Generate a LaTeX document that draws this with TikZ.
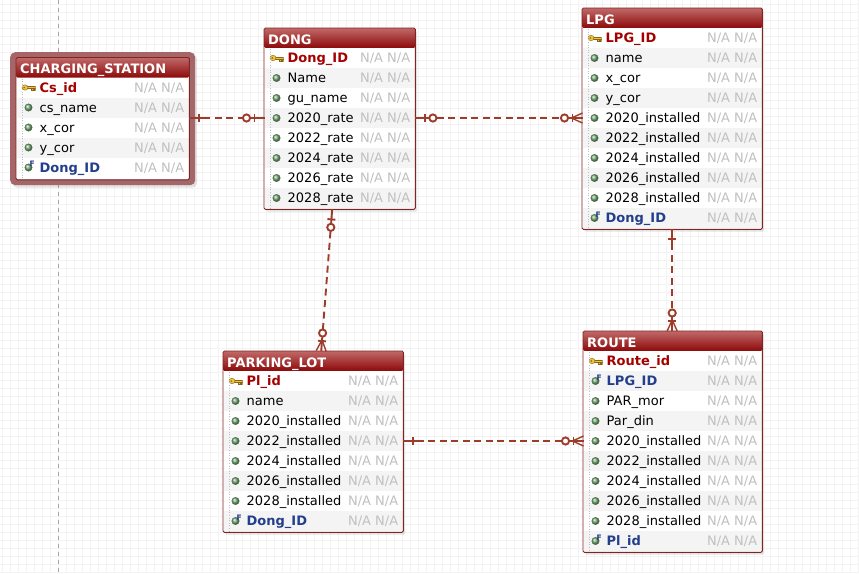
\documentclass[tikz,border=0pt]{standalone}
\usepackage{fontspec}
\setmainfont{DejaVu Sans}
\usetikzlibrary{calc,shadows}

\definecolor{relcol}{RGB}{158,60,44}
\definecolor{tableline}{RGB}{128,36,36}
\definecolor{headtop}{RGB}{192,104,104}
\definecolor{headbot}{RGB}{140,8,8}
\definecolor{rowgray}{RGB}{244,244,244}
\definecolor{pkred}{RGB}{165,0,0}
\definecolor{fkblue}{RGB}{34,62,140}
\definecolor{nagray}{RGB}{192,192,192}
\definecolor{dotgreen}{RGB}{120,175,120}
\definecolor{keygold}{RGB}{236,196,64}
\definecolor{keyedge}{RGB}{140,100,20}
\definecolor{gridcol}{RGB}{243,243,243}
\definecolor{selframe}{RGB}{166,102,104}

\begin{document}
\begin{tikzpicture}[x=1pt,y=-1pt,
    % Define the styles for the tables
    tablebox/.style={anchor=north west, inner sep=0pt, fill=white, rounded corners=1.5pt,
        drop shadow={shadow xshift=2pt, shadow yshift=-2.5pt, opacity=0.22}},
    selbox/.style={tablebox, fill=selframe, rounded corners=5pt},
    tableframe/.style={draw=tableline, line width=0.9pt, rounded corners=1.5pt},
    tablehead/.style={anchor=north west, inner sep=0pt, minimum height=20pt, rounded corners=1.5pt,
        top color=headtop, middle color=headbot, bottom color=headbot},
    headtext/.style={anchor=base west, inner sep=0pt, text=white, font=\bfseries\fontsize{13}{13}\selectfont},
    rowband/.style={anchor=west, inner sep=0pt, minimum height=20pt},
    rowdots/.style={draw=black!25, dotted, line width=0.6pt},
    gridline/.style={draw=gridcol, line width=0.7pt},
    % Define the style for each kind of field
    col-icon/.style={circle, inner sep=0pt, minimum size=7.5pt, ball color=dotgreen, draw=dotgreen!60!black, line width=0.3pt},
    fk-icon/.style={col-icon, label={[inner sep=0pt, text=fkblue, font=\bfseries\fontsize{7.5}{7.5}\selectfont, xshift=-1.8pt, yshift=-2.2pt]north east:F}},
    pk-icon/.style={inner sep=0pt, minimum width=14pt, minimum height=8pt, path picture={
        \coordinate (kc) at (path picture bounding box.center);
        \filldraw[draw=keyedge, fill=keygold, line width=0.4pt] ([xshift=-1pt,yshift=-1.1pt]kc) rectangle ([xshift=6.5pt,yshift=1.1pt]kc);
        \filldraw[draw=keyedge, fill=keygold, line width=0.4pt] ([xshift=3pt,yshift=-1.1pt]kc) rectangle ([xshift=4.3pt,yshift=-3pt]kc);
        \filldraw[draw=keyedge, fill=keygold, line width=0.4pt] ([xshift=5.2pt,yshift=-1.1pt]kc) rectangle ([xshift=6.5pt,yshift=-3pt]kc);
        \filldraw[draw=keyedge, fill=keygold, line width=0.4pt] ([xshift=-3.5pt]kc) ellipse (3pt and 2.7pt);
        \fill[keyedge] ([xshift=-4.3pt]kc) circle (0.8pt);}},
    col-text/.style={anchor=base west, inner sep=0pt, font=\fontsize{13}{13}\selectfont},
    pk-text/.style={col-text, text=pkred, font=\bfseries\fontsize{13}{13}\selectfont},
    fk-text/.style={col-text, text=fkblue, font=\bfseries\fontsize{13}{13}\selectfont},
    na-text/.style={anchor=base east, inner sep=0pt, text=nagray, font=\fontsize{13}{13}\selectfont},
    % Define the style for the connecting lines
    relsolid/.style={draw=relcol, line width=1.9pt},
    reldash/.style={relsolid, dash pattern=on 7pt off 4.5pt}
]

% One table: name, top left corner, width, height, title, fields
\def\ertable#1#2#3#4#5#6#7{%
    \node[tablebox, minimum width=#4, minimum height=#5] (#1) at (#2,#3) {};
    \node[tablehead, minimum width=#4] (#1-head) at (#1.north west) {};
    \node[headtext] (#1-title) at ([xshift=4pt, yshift=-16pt]#1.north west) {#6};
    \foreach \i/\fname/\kind in {#7}{
        \ifodd\i \def\rf{white}\else\def\rf{rowgray}\fi
        \node[rowband, fill=\rf, minimum width=#4-1] (#1-\i) at ([xshift=0.5pt, yshift=-20*\i-10]#1.north west) {};
        \node[\kind-icon] at ([xshift=12pt]#1-\i.west) {};
        \node[\kind-text] at ([xshift=23pt, yshift=-4.6pt]#1-\i.west) {\fname};
        \node[na-text] at ([xshift=-4.5pt, yshift=-4.6pt]#1-\i.east) {N/A N/A};
    }
    \draw[rowdots] ([xshift=6pt, yshift=-21pt]#1.north west) -- ([xshift=6pt, yshift=1pt]#1.south west);
    \draw[tableframe] (#1.north west) rectangle (#1.south east);
}

% Line ends: #1 is the table side, #2 the far side
\def\relone#1#2{%
    \draw[relsolid] (#1) -- ($(#1)!14pt!(#2)$);
    \draw[relsolid] ($(#1)!10pt!(#2)!4pt!90:(#2)$) -- ($(#1)!10pt!(#2)!4pt!-90:(#2)$);
}
\def\relzeroone#1#2{%
    \draw[relsolid] (#1) -- ($(#1)!22pt!(#2)$);
    \draw[relsolid] ($(#1)!10pt!(#2)!4pt!90:(#2)$) -- ($(#1)!10pt!(#2)!4pt!-90:(#2)$);
    \draw[relsolid, fill=white] ($(#1)!18pt!(#2)$) circle (3.6pt);
}
\def\relmany#1#2{%
    \draw[relsolid] (#1) -- ($(#1)!22pt!(#2)$);
    \draw[relsolid, line width=1.4pt] ($(#1)!5pt!90:(#2)$) -- ($(#1)!11pt!(#2)$) -- ($(#1)!5pt!-90:(#2)$);
    \draw[relsolid] ($(#1)!10pt!(#2)!4pt!90:(#2)$) -- ($(#1)!10pt!(#2)!4pt!-90:(#2)$);
    \draw[relsolid, fill=white] ($(#1)!18pt!(#2)$) circle (3.6pt);
}

\useasboundingbox (0,0) rectangle (859,573);
\fill[white] (0,0) rectangle (859,573);

% Background grid and page break line
\foreach \gx in {2.5,10.5,...,859}
    \draw[gridline] (\gx,0) -- (\gx,573);
\foreach \gy in {4,12,...,573}
    \draw[gridline] (0,\gy) -- (859,\gy);
\draw[draw=black!35, line width=0.8pt, dash pattern=on 4pt off 4pt] (58.5,0) -- (58.5,573);

% Tables
\node[selbox, minimum width=185, minimum height=133] (cs-sel) at (10,52) {};
\ertable{cs}{16}{57.5}{173}{122}{CHARGING\_STATION}{1/Cs\_id/pk, 2/cs\_name/col, 3/x\_cor/col, 4/y\_cor/col, 5/Dong\_ID/fk}
\ertable{dong}{264}{28}{151}{181}{DONG}{1/Dong\_ID/pk, 2/Name/col, 3/gu\_name/col, 4/2020\_rate/col, 5/2022\_rate/col, 6/2024\_rate/col, 7/2026\_rate/col, 8/2028\_rate/col}
\ertable{lpg}{582}{8}{180}{221}{LPG}{1/LPG\_ID/pk, 2/name/col, 3/x\_cor/col, 4/y\_cor/col, 5/2020\_installed/col, 6/2022\_installed/col, 7/2024\_installed/col, 8/2026\_installed/col, 9/2028\_installed/col, 10/Dong\_ID/fk}
\ertable{pl}{223}{351}{180}{181}{PARKING\_LOT}{1/Pl\_id/pk, 2/name/col, 3/2020\_installed/col, 4/2022\_installed/col, 5/2024\_installed/col, 6/2026\_installed/col, 7/2028\_installed/col, 8/Dong\_ID/fk}
\ertable{route}{583}{331}{179}{221}{ROUTE}{1/Route\_id/pk, 2/LPG\_ID/fk, 3/PAR\_mor/col, 4/Par\_din/col, 5/2020\_installed/col, 6/2022\_installed/col, 7/2024\_installed/col, 8/2026\_installed/col, 9/2028\_installed/col, 10/Pl\_id/fk}

% CHARGING_STATION -- DONG
\coordinate (cs-dong) at (cs.east |- dong-4.west);
\draw[reldash] ($(cs-dong)!14pt!(dong-4.west)$) -- ($(dong-4.west)!22pt!(cs-dong)$);
\relone{cs-dong}{dong-4.west}
\relzeroone{dong-4.west}{cs-dong}

% DONG -- LPG
\draw[reldash] ($(dong-4.east)!22pt!(lpg-5.west)$) -- ($(lpg-5.west)!22pt!(dong-4.east)$);
\relzeroone{dong-4.east}{lpg-5.west}
\relmany{lpg-5.west}{dong-4.east}

% DONG -- PARKING_LOT
\coordinate (dong-pl) at ([xshift=-7.5pt]dong.south);
\coordinate (pl-dong) at ([xshift=8pt]pl.north);
\draw[reldash] ($(dong-pl)!22pt!(pl-dong)$) -- ($(pl-dong)!22pt!(dong-pl)$);
\relzeroone{dong-pl}{pl-dong}
\relmany{pl-dong}{dong-pl}

% LPG -- ROUTE
\coordinate (route-lpg) at (lpg.south |- route.north);
\draw[reldash] ($(lpg.south)!14pt!(route-lpg)$) -- ($(route-lpg)!22pt!(lpg.south)$);
\relone{lpg.south}{route-lpg}
\relmany{route-lpg}{lpg.south}

% PARKING_LOT -- ROUTE
\draw[reldash] ($(pl-4.east)!14pt!(route-5.west)$) -- ($(route-5.west)!22pt!(pl-4.east)$);
\relone{pl-4.east}{route-5.west}
\relmany{route-5.west}{pl-4.east}

\end{tikzpicture}
\end{document}
